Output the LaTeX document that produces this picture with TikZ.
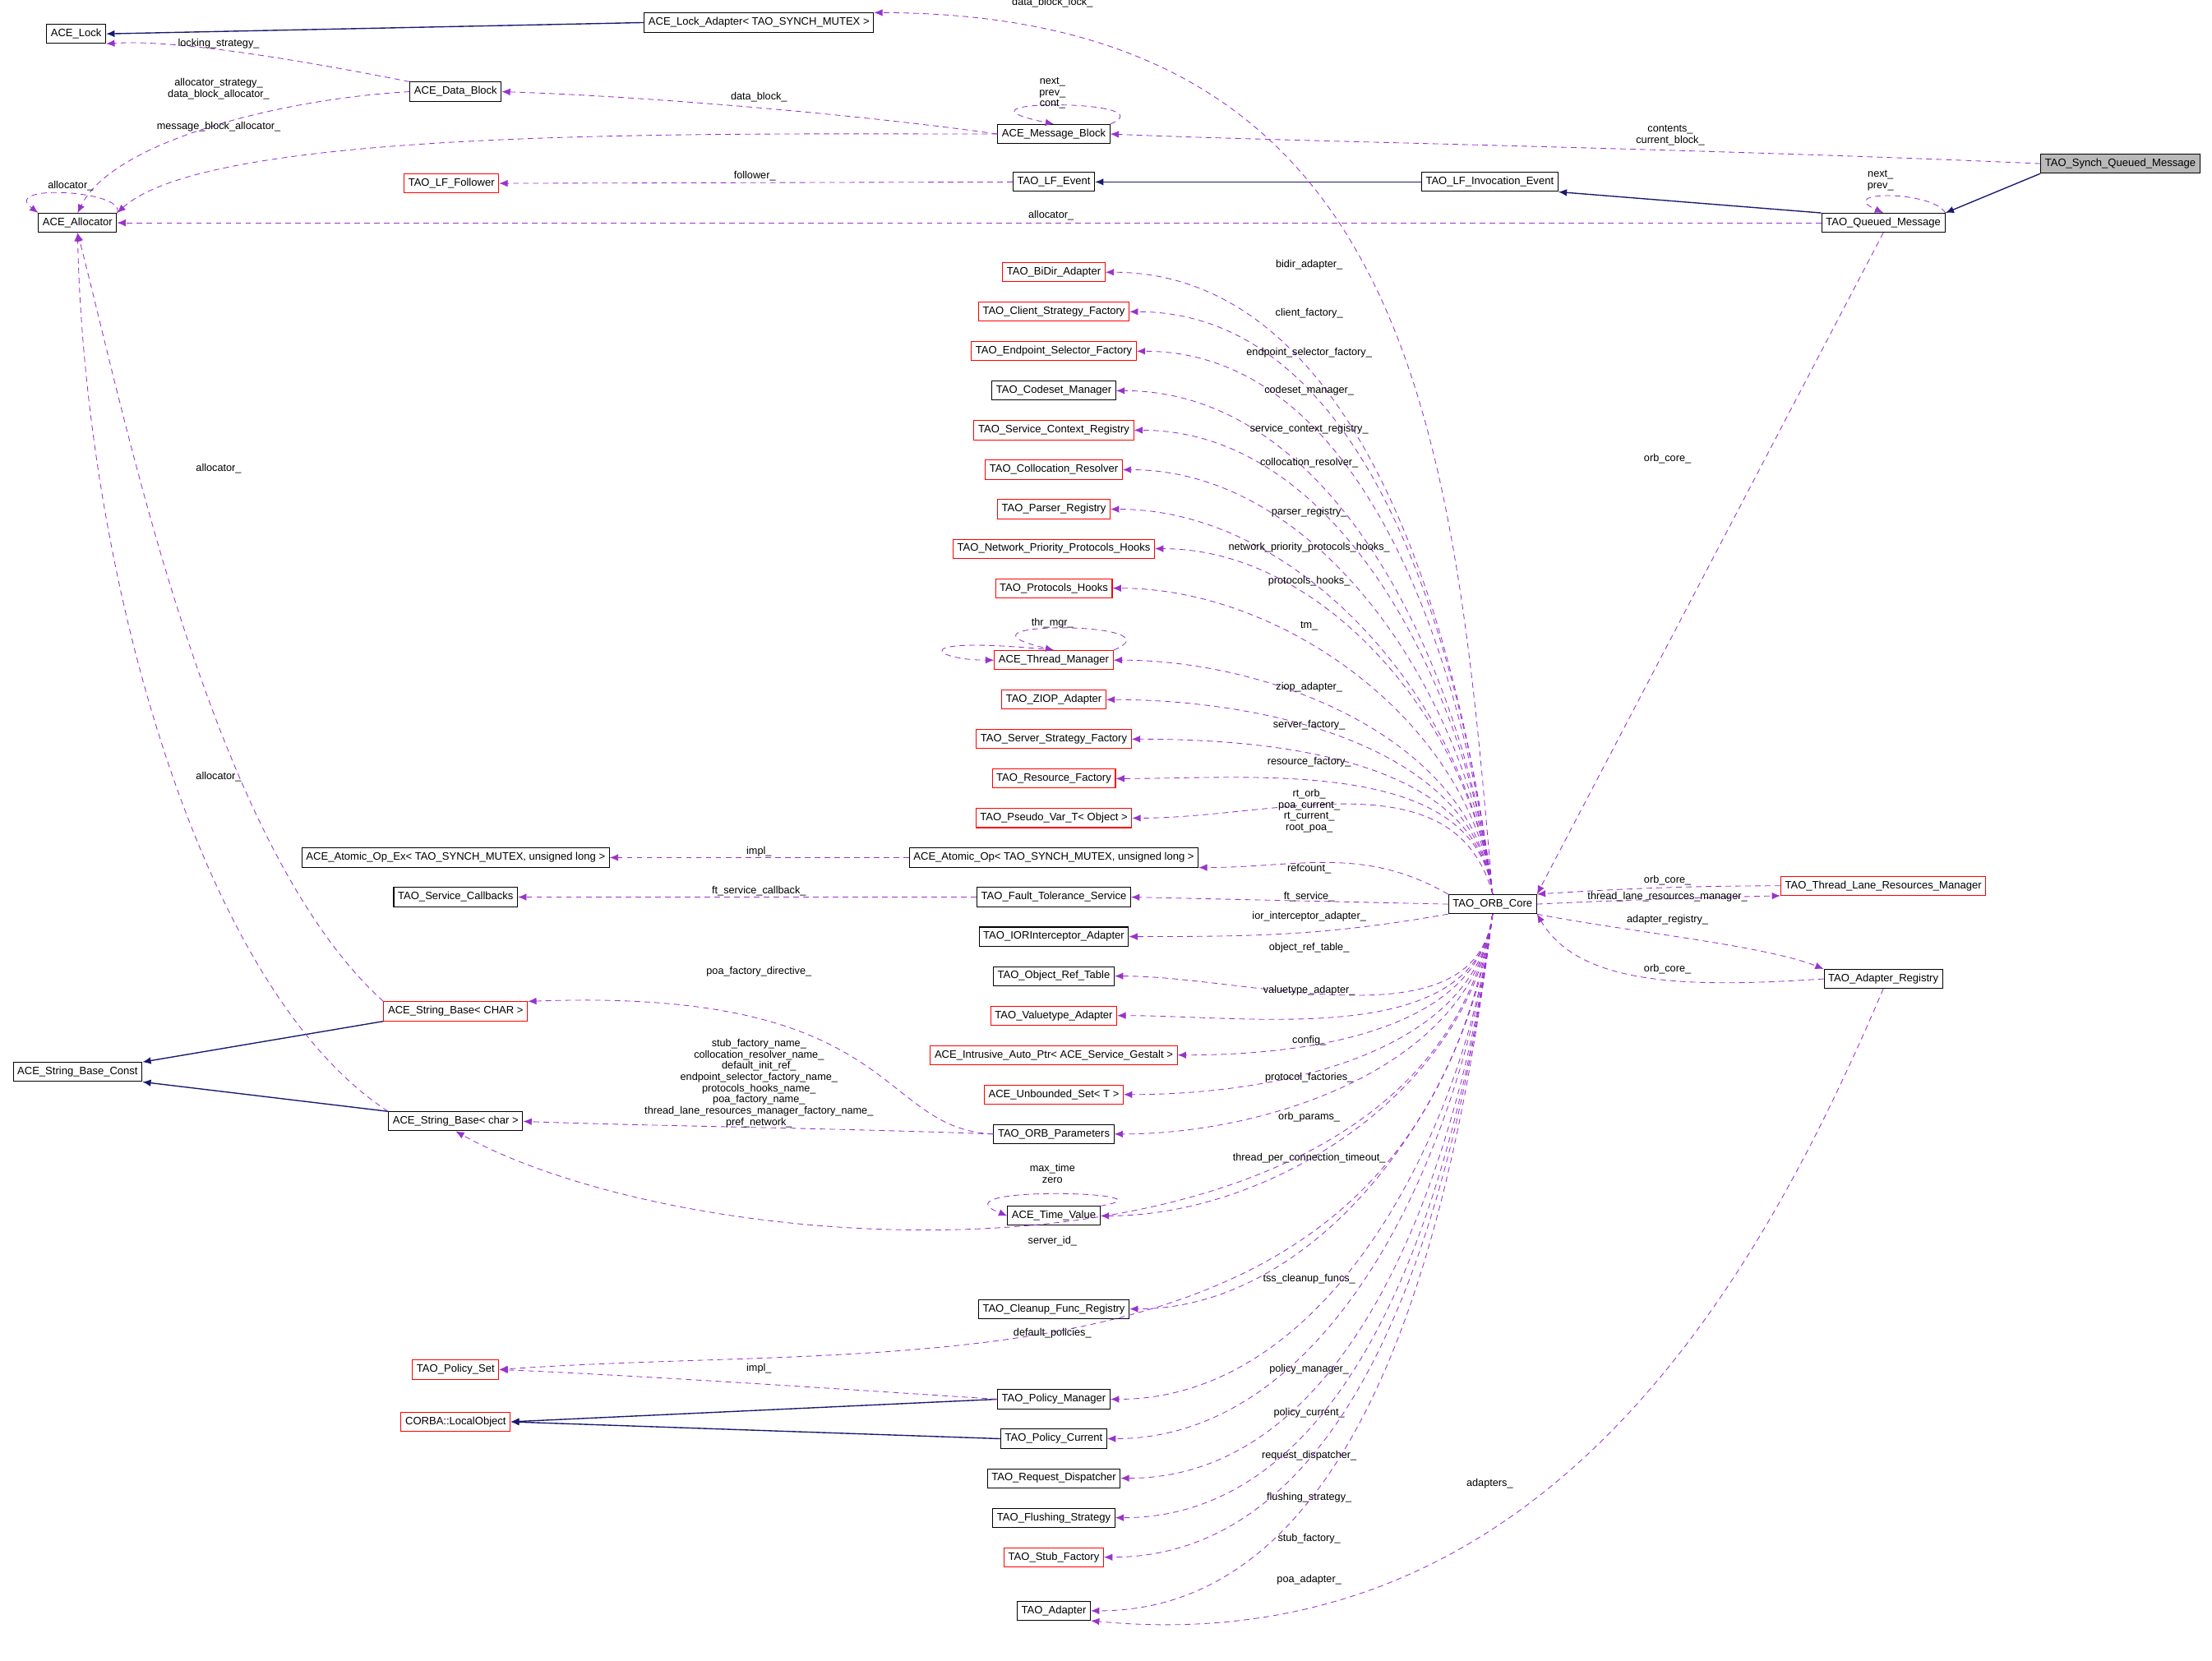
\documentclass[tikz,border=0pt]{standalone}
\usepackage{fontspec}
\setmainfont{Liberation Sans}
\usetikzlibrary{arrows.meta}
\definecolor{dep}{RGB}{153,50,204}
\definecolor{inh}{RGB}{25,25,112}
\tikzset{
 box/.style={draw=black,line width=0.6pt,inner xsep=3pt,inner ysep=2pt,minimum height=13.5pt,font=\fontsize{7.6}{8.4}\selectfont,fill=white},
 rbox/.style={box,draw=red},
 gbox/.style={box,fill=gray!55},
 dep/.style={draw=dep,dashed,dash pattern=on 4pt off 3pt,line width=0.5pt,-{Latex[length=6pt,width=5pt]}},
 inh/.style={draw=inh,line width=0.8pt,-{Latex[length=6pt,width=5pt]}},
 lab/.style={font=\fontsize{7.4}{8}\selectfont,inner sep=0pt,align=center}
}
\begin{document}
\begin{tikzpicture}[x=1pt,y=-1pt]
\useasboundingbox (0,0) rectangle (1568,1177.6);
% nodes
\node[box] (lock) at (54,24) {ACE\_Lock};
\node[box] (la) at (538,16) {ACE\_Lock\_Adapter< TAO\_SYNCH\_MUTEX >};
\node[box] (db) at (323,65) {ACE\_Data\_Block};
\node[box] (mb) at (747,95) {ACE\_Message\_Block};
\node[box] (alloc) at (55,158) {ACE\_Allocator};
\node[rbox] (lff) at (320,130) {TAO\_LF\_Follower};
\node[box] (lfe) at (747,129) {TAO\_LF\_Event};
\node[box] (lfi) at (1056,129) {TAO\_LF\_Invocation\_Event};
\node[gbox] (sqm) at (1503,116) {TAO\_Synch\_Queued\_Message};
\node[box] (qm) at (1335,158) {TAO\_Queued\_Message};
\node[rbox] (bidir) at (747,193) {TAO\_BiDir\_Adapter};
\node[rbox] (csf) at (747,221) {TAO\_Client\_Strategy\_Factory};
\node[rbox] (esf) at (747,249) {TAO\_Endpoint\_Selector\_Factory};
\node[box] (cm) at (747,277) {TAO\_Codeset\_Manager};
\node[rbox] (scr) at (747,305) {TAO\_Service\_Context\_Registry};
\node[rbox] (cr) at (747,333) {TAO\_Collocation\_Resolver};
\node[rbox] (pr) at (747,361) {TAO\_Parser\_Registry};
\node[rbox] (nph) at (747,389) {TAO\_Network\_Priority\_Protocols\_Hooks};
\node[rbox] (ph) at (747,417) {TAO\_Protocols\_Hooks};
\node[rbox] (tm) at (747,468) {ACE\_Thread\_Manager};
\node[rbox] (ziop) at (747,496) {TAO\_ZIOP\_Adapter};
\node[rbox] (ssf) at (747,524) {TAO\_Server\_Strategy\_Factory};
\node[rbox] (rf) at (747,552) {TAO\_Resource\_Factory};
\node[rbox] (pv) at (747,580) {TAO\_Pseudo\_Var\_T< Object >};
\node[box] (ao) at (747,608) {ACE\_Atomic\_Op< TAO\_SYNCH\_MUTEX, unsigned long >};
\node[box] (fts) at (747,636) {TAO\_Fault\_Tolerance\_Service};
\node[box] (ior) at (747,664) {TAO\_IORInterceptor\_Adapter};
\node[box] (ort) at (747,692) {TAO\_Object\_Ref\_Table};
\node[rbox] (vta) at (747,720) {TAO\_Valuetype\_Adapter};
\node[rbox] (iap) at (747,748) {ACE\_Intrusive\_Auto\_Ptr< ACE\_Service\_Gestalt >};
\node[rbox] (us) at (747,776) {ACE\_Unbounded\_Set< T >};
\node[box] (op) at (747,804) {TAO\_ORB\_Parameters};
\node[box] (tv) at (747,862) {ACE\_Time\_Value};
\node[box] (cfr) at (747,928) {TAO\_Cleanup\_Func\_Registry};
\node[box] (pm) at (747,992) {TAO\_Policy\_Manager};
\node[box] (pc) at (747,1020) {TAO\_Policy\_Current};
\node[box] (rd) at (747,1048) {TAO\_Request\_Dispatcher};
\node[box] (fs) at (747,1076) {TAO\_Flushing\_Strategy};
\node[rbox] (sf) at (747,1104) {TAO\_Stub\_Factory};
\node[box] (ad) at (747,1142) {TAO\_Adapter};
\node[box] (aoex) at (323,608) {ACE\_Atomic\_Op\_Ex< TAO\_SYNCH\_MUTEX, unsigned long >};
\node[box] (scb) at (323,636) {TAO\_Service\_Callbacks};
\node[rbox] (sbC) at (323,717) {ACE\_String\_Base< CHAR >};
\node[box] (sbc) at (55,760) {ACE\_String\_Base\_Const};
\node[box] (sbch) at (323,795) {ACE\_String\_Base< char >};
\node[rbox] (ps) at (323,971) {TAO\_Policy\_Set};
\node[rbox] (lo) at (323,1008) {CORBA::LocalObject};
\node[box] (core) at (1058,641) {TAO\_ORB\_Core};
\node[rbox] (tlr) at (1335,628) {TAO\_Thread\_Lane\_Resources\_Manager};
\node[box] (ar) at (1335,694) {TAO\_Adapter\_Registry};
% inheritance
\draw[inh] (la.west) -- (lock.east);
\draw[inh] (lfi.west) -- (lfe.east);
\draw[inh] (qm.north west) -- (lfi.south east);
\draw[inh] (sqm.south west) -- (qm.north east);
\draw[inh] (sbC.south west) -- (sbc.north east);
\draw[inh] (sbch.north west) -- (sbc.south east);
\draw[inh] (pm.west) -- (lo.east);
\draw[inh] (pc.west) -- (lo.east);
% top area deps
\draw[dep] (db.north west) .. controls (200,40) and (120,28) .. (lock.south east);
\node[lab] (l1) at (155,31) {locking\_strategy\_};
\draw[dep] (core.north) .. controls (1030,300) and (1000,10) .. (la.north east);
\node[lab] (l2) at (746,2) {data\_block\_lock\_};
\draw[dep] (mb.west) .. controls (600,80) and (450,68) .. (db.east);
\node[lab] (l3) at (538,69) {data\_block\_};
\draw[dep] (db.west) .. controls (200,70) and (80,100) .. (alloc.north);
\node[lab] (l4) at (155,63) {allocator\_strategy\_\\data\_block\_allocator\_};
\draw[dep] (mb.west) .. controls (500,95) and (150,90) .. (alloc.north east);
\node[lab] (l5) at (155,90) {message\_block\_allocator\_};
\draw[dep] (alloc.north east) .. controls (90,135) and (0,130) .. (alloc.north west);
\node[lab] (l6) at (50,132) {allocator\_};
\draw[dep] (mb.north east) .. controls (830,70) and (660,70) .. (mb.north);
\node[lab] (l7) at (746,66) {next\_\\prev\_\\cont\_};
\draw[dep] (sqm.west) .. controls (1200,105) and (900,100) .. (mb.east);
\node[lab] (l8) at (1184,96) {contents\_\\current\_block\_};
\draw[dep] (lfe.west) -- (lff.east);
\node[lab] (l9) at (535,125) {follower\_};
\draw[dep] (qm.west) -- (alloc.east);
\node[lab] (l10) at (745,153) {allocator\_};
\draw[dep] (qm.north east) .. controls (1370,135) and (1300,135) .. (qm.north);
\node[lab] (l11) at (1333,128) {next\_\\prev\_};
\draw[dep] (qm.south) -- (core.north east);
\node[lab] (l12) at (1182,325) {orb\_core\_};
\draw[dep] (sbC.north west) .. controls (150,600) and (90,300) .. (alloc.south);
\node[lab] (l13) at (155,332) {allocator\_};
\draw[dep] (sbch.north west) .. controls (140,700) and (60,400) .. (alloc.south);
\node[lab] (l14) at (155,551) {allocator\_};
% core column upward
\foreach \t/\lb/\ly in {bidir/bidir\_adapter\_/188, csf/client\_factory\_/222, esf/endpoint\_selector\_factory\_/250, cm/codeset\_manager\_/277, scr/service\_context\_registry\_/304, cr/collocation\_resolver\_/328, pr/parser\_registry\_/363, nph/network\_priority\_protocols\_hooks\_/388, ph/protocols\_hooks\_/412, tm/tm\_/444, ziop/ziop\_adapter\_/487, ssf/server\_factory\_/514, rf/resource\_factory\_/540}{
 \draw[dep] (core.north) to[out=97,in=0,looseness=0.9] (\t.east);
 \node[lab] at (928,\ly) {\lb};
}
\draw[dep] (core.north) to[out=105,in=0] (pv.east);
\node[lab] (l15) at (928,575) {rt\_orb\_\\poa\_current\_\\rt\_current\_\\root\_poa\_};
\draw[dep] (core.north west) to[out=150,in=0] (ao.south east);
\node[lab] (l16) at (928,616) {refcount\_};
\draw[dep] (core.west) -- (fts.east);
\node[lab] (l17) at (928,636) {ft\_service\_};
\draw[dep] (core.south west) to[out=190,in=0] (ior.east);
\node[lab] (l18) at (928,650) {ior\_interceptor\_adapter\_};
\foreach \t/\lb/\ly in {ort/object\_ref\_table\_/672, vta/valuetype\_adapter\_/702, iap/config\_/738, us/protocol\_factories\_/764, op/orb\_params\_/792, tv/thread\_per\_connection\_timeout\_/821, cfr/tss\_cleanup\_funcs\_/907, pm/policy\_manager\_/971, pc/policy\_current\_/1002, rd/request\_dispatcher\_/1032, fs/flushing\_strategy\_/1062, sf/stub\_factory\_/1091, ad/poa\_adapter\_/1120}{
 \draw[dep] (core.south) to[out=-97,in=0,looseness=0.9] (\t.east);
 \node[lab] at (928,\ly) {\lb};
}
\draw[dep] (tm.north east) .. controls (840,440) and (660,440) .. (tm.north);
\draw[dep] (tm.north) .. controls (640,450) and (660,468) .. (tm.west);
\node[lab] (l19) at (746,442) {thr\_mgr\_};
\draw[dep] (ao.west) -- (aoex.east);
\node[lab] (l20) at (538,604) {impl\_};
\draw[dep] (fts.west) -- (scb.east);
\node[lab] (l21) at (538,632) {ft\_service\_callback\_};
\draw[dep] (op.west) .. controls (620,800) and (640,700) .. (sbC.north east);
\node[lab] (l22) at (538,689) {poa\_factory\_directive\_};
\draw[dep] (op.west) .. controls (600,800) and (450,798) .. (sbch.east);
\node[lab] (l23) at (538,768) {stub\_factory\_name\_\\collocation\_resolver\_name\_\\default\_init\_ref\_\\endpoint\_selector\_factory\_name\_\\protocols\_hooks\_name\_\\poa\_factory\_name\_\\thread\_lane\_resources\_manager\_factory\_name\_\\pref\_network\_};
\draw[dep] (tv.north east) .. controls (840,845) and (660,840) .. (tv.west);
\node[lab] (l24) at (746,832) {max\_time\\zero};
\draw[dep] (core.south) .. controls (1010,930) and (500,900) .. (sbch.south);
\node[lab] (l25) at (746,880) {server\_id\_};
\draw[dep] (core.south) .. controls (1000,1000) and (650,950) .. (ps.east);
\node[lab] (l26) at (746,945) {default\_policies\_};
\draw[dep] (pm.west) .. controls (600,985) and (450,975) .. (ps.east);
\node[lab] (l27) at (538,970) {impl\_};
\draw[dep] (ar.south) .. controls (1250,900) and (1100,1180) .. (ad.south east);
\node[lab] (l28) at (1056,1052) {adapters\_};
% right side
\draw[dep] (tlr.west) .. controls (1200,628) and (1150,630) .. (core.north east);
\node[lab] (l29) at (1182,624) {orb\_core\_};
\draw[dep] (core.east) .. controls (1150,638) and (1220,636) .. (tlr.south west);
\node[lab] (l30) at (1182,636) {thread\_lane\_resources\_manager\_};
\draw[dep] (core.south east) .. controls (1150,660) and (1250,670) .. (ar.north west);
\node[lab] (l31) at (1182,652) {adapter\_registry\_};
\draw[dep] (ar.west) .. controls (1200,700) and (1120,700) .. (core.south east);
\node[lab] (l32) at (1182,687) {orb\_core\_};
\end{tikzpicture}
\end{document}
